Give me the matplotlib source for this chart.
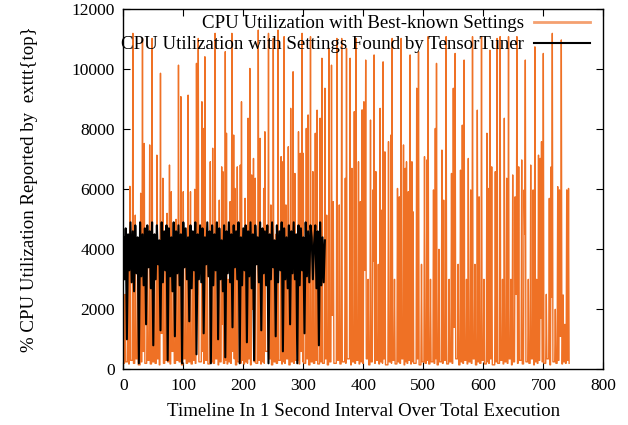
import numpy as np
import matplotlib
matplotlib.use('Agg')
import matplotlib.pyplot as plt

plt.rcParams['font.family'] = ['Liberation Serif', 'DejaVu Serif']

# best-known settings: spike times (s), spike heights and the low value after each spike
orange_start = 200
orange_t = [
    3, 8, 11, 16, 20, 24, 29, 32, 35, 40,
    44, 48, 52, 56, 59, 62, 66, 70, 73, 77,
    80, 84, 88, 92, 96, 100, 104, 108, 112, 116,
    119, 122, 125, 131, 133, 136, 140, 145, 149, 153,
    157, 160, 164, 166, 170, 172, 175, 178, 181, 184,
    186, 190, 195, 197, 200, 203, 206, 208, 211, 214,
    217, 220, 225, 228, 231, 234, 236, 242, 246, 250,
    254, 258, 263, 266, 268, 271, 275, 279, 283, 286,
    292, 295, 298, 300, 305, 308, 312, 316, 320, 323,
    328, 331, 336, 339, 343, 347, 350, 356, 360, 364,
    370, 372, 378, 381, 385, 388, 392, 395, 398, 401,
    404, 408, 412, 416, 418, 421, 425, 428, 431, 433,
    436, 442, 446, 448, 452, 457, 460, 463, 467, 470,
    472, 475, 478, 481, 483, 489, 492, 497, 502, 506,
    508, 512, 517, 520, 522, 526, 531, 534, 538, 543,
    547, 550, 553, 558, 562, 565, 568, 572, 575, 579,
    582, 586, 590, 593, 597, 601, 606, 608, 611, 614,
    620, 623, 628, 632, 635, 639, 642, 646, 649, 653,
    656, 659, 664, 668, 670, 675, 679, 683, 686, 689,
    692, 695, 697, 700, 705, 710, 713, 715, 720, 724,
    727, 730, 733, 736, 739, 742,
]
orange_peak = [
    2500, 4200, 6100, 11200, 5140, 3000, 5870, 11030, 7530, 3500,
    7480, 11030, 4500, 7140, 3800, 9870, 6370, 4200, 5200, 6810,
    5920, 3900, 5000, 10140, 9090, 5920, 4200, 9140, 5920, 4500,
    6000, 10200, 11030, 8920, 8030, 10420, 4000, 6920, 7370, 11200,
    3500, 5640, 6750, 6590, 10590, 7870, 3000, 5590, 11200, 7810,
    6030, 6750, 6810, 8920, 4000, 5700, 3500, 8370, 10030, 6480,
    7030, 6370, 11310, 7700, 4000, 6030, 7920, 11200, 5480, 11030,
    4500, 11310, 7090, 6920, 11090, 5480, 7420, 8700, 9920, 6530,
    7920, 7200, 11200, 7200, 8030, 8480, 11090, 6590, 7870, 8640,
    8370, 10370, 9370, 5140, 10700, 10140, 5590, 11030, 5480, 11030,
    6370, 10700, 10370, 6700, 8590, 11030, 6920, 5590, 8650, 8920,
    10310, 3000, 8310, 5980, 10480, 6590, 3500, 8700, 5310, 10250,
    7250, 7590, 7810, 11030, 3000, 6030, 5750, 11030, 7480, 6700,
    6920, 5920, 10480, 6920, 5250, 9370, 10590, 3500, 7090, 6980,
    11090, 3000, 5980, 8030, 10200, 4000, 7310, 5640, 11090, 3000,
    6530, 9370, 10530, 3500, 6640, 8140, 10310, 3000, 7030, 5980,
    11090, 3500, 8640, 5750, 11090, 3000, 7870, 6030, 10640, 6750,
    6590, 11030, 11090, 3000, 8370, 6370, 11090, 3000, 6480, 5750,
    11090, 6750, 6980, 5980, 10310, 3000, 6810, 5980, 10750, 3000,
    7140, 7030, 7590, 10530, 2500, 5700, 6750, 11200, 2000, 6090,
    5980, 10980, 2480, 1500, 5980, 6030,
]
orange_dip = [
    250, 180, 300, 200, 350, 150, 250, 600, 200, 300,
    180, 250, 200, 350, 150, 1200, 200, 300, 250, 180,
    600, 200, 300, 250, 150, 350, 200, 250, 180, 300,
    200, 2500, 250, 600, 200, 300, 180, 250, 200, 350,
    150, 250, 1500, 200, 300, 180, 250, 200, 600, 350,
    150, 250, 200, 300, 180, 250, 200, 350, 150, 2000,
    250, 200, 300, 180, 250, 200, 600, 350, 150, 250,
    200, 300, 180, 250, 200, 350, 150, 250, 200, 300,
    180, 600, 250, 200, 350, 150, 250, 200, 300, 180,
    250, 200, 350, 150, 250, 1800, 200, 300, 180, 250,
    200, 350, 150, 250, 200, 300, 180, 250, 200, 3300,
    350, 150, 250, 3600, 200, 300, 180, 250, 200, 350,
    150, 250, 200, 300, 180, 250, 200, 350, 150, 250,
    200, 300, 180, 250, 200, 350, 150, 250, 200, 300,
    180, 250, 200, 350, 150, 250, 200, 300, 180, 250,
    200, 1400, 350, 150, 250, 200, 300, 180, 250, 200,
    350, 150, 250, 200, 300, 180, 250, 200, 350, 150,
    250, 200, 300, 180, 250, 200, 350, 150, 250, 2500,
    200, 300, 180, 4500, 250, 200, 350, 150, 250, 200,
    300, 1700, 250, 200, 350, 150, 2400, 250, 200, 300,
    1100, 180, 250, 200, 300, 200,
]

# TensorTuner settings, one reading every 2 s
black_step = 2
black_v = [
    4400, 3000, 4700, 1000, 4500, 3300, 4900, 2900, 4600, 2600, 4800, 3200, 4400, 200, 4900, 3100, 4500, 2800, 4700, 1500,
    4800, 3400, 4600, 2700, 4900, 800, 4500, 3000, 4800, 3500, 4300, 1300, 4900, 2900, 4600, 3300, 4800, 300, 4700, 3100,
    4400, 2600, 4900, 1100, 4600, 3200, 4800, 2800, 4500, 200, 4900, 3400, 4700, 3000, 4400, 1600, 4800, 2700, 4600, 3300,
    4900, 500, 4500, 3000, 4800, 2900, 4700, 1200, 4400, 3500, 4900, 3100, 4600, 200, 4800, 2800, 4500, 3300, 4900, 1000,
    4700, 3000, 4300, 2600, 4800, 400, 4600, 3200, 4900, 2900, 4500, 1400, 4800, 3400, 4600, 3000, 4900, 200, 4400, 2800,
    4700, 3300, 4800, 900, 4600, 3100, 4900, 2700, 4500, 300, 4800, 3500, 4400, 2900, 4900, 1300, 4700, 3200, 4600, 2800,
    4800, 200, 4500, 3000, 4900, 3400, 4300, 1100, 4800, 2900, 4600, 3300, 4900, 600, 4700, 3000, 4400, 2700, 4800, 1500,
    4600, 3200, 4900, 3000, 4500, 200, 4800, 2800, 4700, 3300, 4400, 1200, 4900, 3100, 4600, 2900, 4800, 4400, 3000, 4200,
    4800, 2700, 4600, 800, 4900, 2800, 4400, 2900, 4300,
]

x_ticks = [0, 100, 200, 300, 400, 500, 600, 700, 800]
y_ticks = [0, 2000, 4000, 6000, 8000, 10000, 12000]

# spikes -> polyline vertices
vt, vv = [0], [orange_start]
for t, p, d in zip(orange_t, orange_peak, orange_dip):
    if t - 1 > vt[-1]:
        vt.append(t - 1)
        vv.append(vv[-1])
    vt.append(t)
    vv.append(p)
    vt.append(t + 1)
    vv.append(d)

bt = np.arange(len(black_v)) * black_step

fig = plt.figure(figsize=(6.28, 4.25), dpi=100)
ax = fig.add_axes([0.1963, 0.131, 0.7644, 0.847])

ax.plot(vt, vv, color='#ef7125', lw=1.0, label='CPU Utilization with Best-known Settings')
ax.plot(bt, black_v, color='black', lw=1.5, label='CPU Utilization with Settings Found by TensorTuner')

ax.set_xlim(0, 800)
ax.set_ylim(0, 12000)
ax.set_xticks(x_ticks)
ax.set_yticks(y_ticks)
ax.tick_params(direction='in', top=True, right=True, length=5, labelsize=12.5, pad=6)
for s in ax.spines.values():
    s.set_linewidth(1.0)

ax.set_xlabel('Timeline In 1 Second Interval Over Total Execution', fontsize=13.6, labelpad=7)
ax.set_ylabel('% CPU Utilization Reported by  exttt{top}', fontsize=13.6, labelpad=24)

leg = ax.legend(loc='upper right', bbox_to_anchor=(0.985, 1.0), frameon=False,
                markerfirst=False, fontsize=13.6,
                handlelength=3.0, handletextpad=0.5, labelspacing=0.2,
                borderpad=0.0, borderaxespad=0.3)
leg.get_lines()[0].set_color('#f4a070')
leg.get_lines()[0].set_linewidth(2)

fig.savefig('out.png', dpi=100)
